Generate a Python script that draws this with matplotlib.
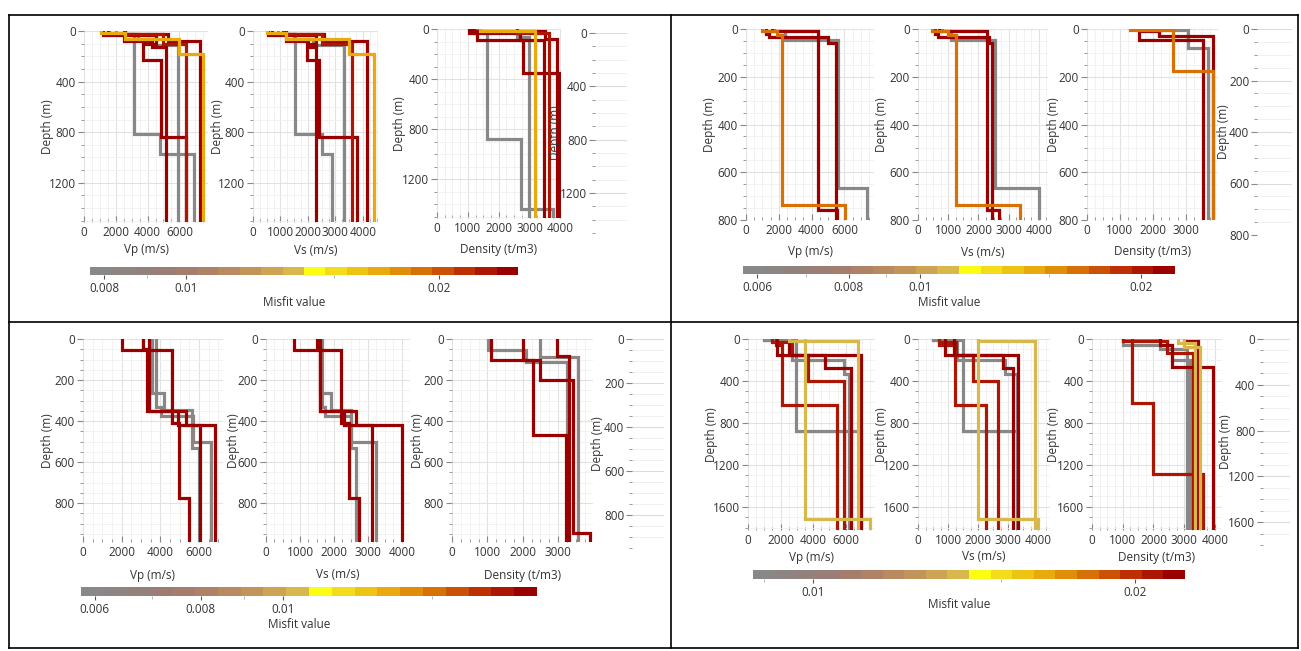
import matplotlib
matplotlib.use("Agg")
import matplotlib.pyplot as plt
from matplotlib.colors import ListedColormap, LogNorm
from matplotlib.cm import ScalarMappable
from matplotlib.lines import Line2D
from matplotlib.ticker import MultipleLocator, FixedLocator, NullFormatter, NullLocator

plt.rcParams['font.family'] = ['Open Sans', 'DejaVu Sans']

W, H = 1301, 651

# colour scale of the misfit (20 steps, grey -> tan -> yellow -> dark red)
misfit_colors = ['#888888', '#8c8582', '#93817b', '#9a7e75', '#a37e6e', '#ad8267',
                 '#b98960', '#c3945a', '#cda453', '#d8b84a', '#fcfc14', '#f4dc1c',
                 '#eec414', '#e8aa0c', '#e08e0a', '#d87008', '#cc5006', '#bc3004',
                 '#ac1602', '#9a0000']

# ---------------- top left ----------------
tl_misfit = [0.0078, 0.0080, 0.0236, 0.0240, 0.0244, 0.0232, 0.017]
tl_tops = [[0, 20, 815, 975], [0, 20, 60, 110], [0, 30, 80, 125], [0, 30, 106, 230, 840],
           [0, 20, 80], [0, 25, 100], [0, 15, 60, 185]]
tl_vp = [[1600, 3150, 4800, 6950], [2000, 3400, 4500, 5890], [1200, 2500, 4300, 5160],
         [2600, 4500, 3680, 4840, 6420], [1500, 5300, 7300], [2500, 5000, 6400],
         [1100, 2600, 6000, 7470]]
tl_vs = [[700, 1530, 2500, 2870], [900, 1500, 2200, 3300], [550, 1200, 2000, 2300],
         [1200, 2300, 1960, 2400, 3780], [700, 2600, 4150], [1100, 2500, 3600],
         [500, 1200, 3500, 4400]]
tl_rho_tops = [[0, 20, 880, 1440], [0, 20, 60], [0, 30, 90], [0, 30, 90, 350],
               [0, 15, 80], [0, 30], [0, 15]]
tl_rho = [[1300, 1630, 2720, 3750], [1400, 2600, 2990], [1050, 1300, 3480],
          [1200, 2700, 2800, 3960], [1100, 3500, 3900], [2600, 3640], [1400, 3170]]
tl_ticks = [0.008, 0.01, 0.02]

# ---------------- top right ----------------
tr_misfit = [0.0058, 0.0215, 0.0218, 0.0165]
tr_tops = [[0, 10, 45, 665], [0, 7, 760], [0, 20, 35, 60], [0, 8, 24, 738]]
tr_vp = [[1700, 2400, 5600, 7400], [1600, 4370, 5540], [1200, 1400, 5000, 5500],
         [1000, 1900, 2200, 6060]]
tr_vs = [[800, 1100, 2560, 4000], [700, 2270, 2670], [550, 650, 2350, 2450],
         [450, 1000, 1260, 3360]]
tr_rho_tops = [[0, 5, 80], [0, 45], [0, 10, 30], [0, 5, 178]]
tr_rho = [[2150, 3080, 3690], [1570, 3530], [1600, 2200, 3830], [1300, 2600, 3830]]
tr_ticks = [0.006, 0.008, 0.01, 0.02]

# ---------------- bottom left ----------------
bl_misfit = [0.0058, 0.0062, 0.0190, 0.0195, 0.0198]
bl_tops = [[0, 263, 345, 532], [0, 330, 375, 500], [0, 350, 420], [0, 52, 410, 775],
           [0, 50, 350, 420]]
bl_vp = [[3590, 4200, 5630, 6010], [3760, 4020, 5700, 6610], [3400, 4900, 6050],
         [2000, 4600, 4970, 5490], [3100, 3300, 5350, 6840]]
bl_vs = [[1600, 1900, 2500, 2650], [1650, 1750, 2500, 3240], [1600, 2300, 3120],
         [820, 2200, 2450, 2740], [1500, 1600, 2650, 4000]]
bl_rho_tops = [[0, 55, 110], [0, 90], [0, 85], [0, 100, 466], [0, 100, 200, 946]]
bl_rho = [[1030, 2090, 3260], [2500, 3560], [2970, 3300], [1100, 2300, 3240],
          [2000, 2500, 3410, 3900]]
bl_ticks = [0.006, 0.008, 0.01]

# ---------------- bottom right ----------------
br_misfit = [0.0089, 0.0091, 0.0205, 0.0212, 0.0218, 0.0222, 0.0134, 0.0136]
br_tops = [[0, 10, 880], [0, 10, 200, 330], [0, 60, 625], [0, 30, 150, 400],
           [0, 150, 280], [0, 150], [0, 1712], [0, 15]]
br_vp = [[1000, 2970, 6960], [1000, 2700, 5890, 6200], [1700, 2090, 5450],
         [1500, 2700, 3670, 5880], [2500, 4750, 6300], [1800, 6950], [3480, 7470],
         [2500, 6750]]
br_vs = [[500, 1500, 3330], [500, 1300, 2900, 3300], [700, 1230, 2270],
         [700, 1250, 1830, 2670], [1200, 2830, 3170], [900, 3330], [2000, 4000],
         [2000, 3900]]
br_rho_tops = [[0, 10, 100], [0, 60, 200], [0, 20, 610, 1290], [0, 20, 130],
               [0, 60, 270], [0, 20], [0, 40], [0, 80]]
br_rho = [[1000, 2200, 3080], [1000, 2600, 3200], [1000, 1310, 1970, 3600],
          [1300, 2430, 3300], [2200, 2600, 3930], [3000, 3450], [2800, 3350],
          [3000, 3500]]
br_ticks = [0.01, 0.02]

TXT = '#333333'
FS = 8.5
cmap = ListedColormap(misfit_colors)
fig = plt.figure(figsize=(W / 100, H / 100), dpi=100)


def px_axes(x0, x1, y0, y1):
    return fig.add_axes([x0 / W, 1 - y1 / H, (x1 - x0) / W, (y1 - y0) / H])


def ptext(x, y, s, **kw):
    fig.text(x / W, 1 - y / H, s, ha='center', va='center', color=TXT, fontsize=FS, **kw)


def stairs(tops, vals, zmax):
    z, v = [], []
    bottoms = list(tops[1:]) + [zmax]
    for t, b, val in zip(tops, bottoms, vals):
        z += [t, b]
        v += [val, val]
    return v, z


def profile_axes(box, xmax, xstep, zmax, zstep, zminor):
    ax = px_axes(*box)
    ax.set_xlim(0, xmax)
    ax.set_ylim(zmax, 0)
    ax.xaxis.set_major_locator(MultipleLocator(xstep))
    ax.xaxis.set_minor_locator(MultipleLocator(xstep / 4))
    ax.yaxis.set_major_locator(MultipleLocator(zstep))
    ax.yaxis.set_minor_locator(MultipleLocator(zminor))
    ax.grid(which='major', color='#e2e2e2', lw=0.8)
    ax.grid(which='minor', color='#f0f0f0', lw=0.6)
    ax.set_axisbelow(True)
    for s in ax.spines.values():
        s.set_visible(False)
    ax.tick_params(which='both', colors='#888888', labelcolor=TXT, labelsize=FS)
    ax.tick_params(axis='x', which='both', direction='in', pad=3)
    ax.tick_params(axis='y', which='both', pad=2)
    ax.tick_params(which='major', length=4, width=0.8)
    ax.tick_params(which='minor', length=2, width=0.6)
    return ax


def draw_panel(P):
    norm = LogNorm(P['vmin'], P['vmax'])
    zmax = P['zmax']
    boxes = P['boxes']
    specs = [(P['vp'], P['tops'], P['vp_x'], 'Vp (m/s)'),
             (P['vs'], P['tops'], P['vs_x'], 'Vs (m/s)'),
             (P['rho'], P['rho_tops'], P['rho_x'], 'Density (t/m3)')]
    for (vals, tops, (xmax, xstep), label), box, ylx in zip(specs, boxes, P['ylab_x']):
        ax = profile_axes(box, xmax, xstep, zmax, P['zstep'], P['zminor'])
        for m, t, v in zip(P['misfit'], tops, vals):
            xs, zs = stairs(t, v, zmax)
            ax.plot(xs, zs, color=cmap(norm(m)), lw=2.3, solid_joinstyle='miter')
        ptext(ylx, (box[2] + box[3]) / 2, 'Depth (m)', rotation=90)
        ptext((box[0] + box[1]) / 2, P['xlab_y'], label)

    # extra depth scale on the right
    rx0, rx1, ry0, ry1 = P['right_box']
    ra = px_axes(rx0, rx1, ry0, ry1)
    ra.set_ylim(P['right_zmax'], 0)
    ra.set_xlim(0, 1)
    ra.yaxis.set_major_locator(MultipleLocator(P['zstep']))
    ra.yaxis.set_minor_locator(MultipleLocator(P['zminor']))
    ra.xaxis.set_major_locator(NullLocator())
    ra.grid(axis='y', which='major', color='#dcdcdc', lw=0.8)
    ra.grid(axis='y', which='minor', color='#eeeeee', lw=0.6)
    for s in ra.spines.values():
        s.set_visible(False)
    ra.tick_params(which='both', colors='#888888', labelcolor=TXT, labelsize=FS, pad=1.5)
    ra.tick_params(which='major', length=4, width=0.8)
    ra.tick_params(which='minor', length=2, width=0.6)
    ptext(P['right_lab_x'], (ry0 + ry1) / 2, 'Depth (m)', rotation=90)

    # misfit colour bar
    cx0, cx1, cy0, cy1 = P['cbar_box']
    cax = px_axes(cx0, cx1, cy0, cy1)
    sm = ScalarMappable(norm=norm, cmap=cmap)
    cb = fig.colorbar(sm, cax=cax, orientation='horizontal')
    cb.outline.set_visible(False)
    cb.set_ticks(P['ticks'], labels=[f'{t:g}' for t in P['ticks']])
    cax.xaxis.set_minor_locator(FixedLocator(P['minor_ticks']))
    cax.xaxis.set_minor_formatter(NullFormatter())
    cax.tick_params(which='major', length=3, width=0.8, colors='#555555',
                    labelcolor=TXT, labelsize=FS, pad=2)
    cax.tick_params(which='minor', length=2, width=0.6, colors='#aaaaaa')
    ptext((cx0 + cx1) / 2 - 10, P['misfit_y'], 'Misfit value')


panels = [
    dict(misfit=tl_misfit, tops=tl_tops, vp=tl_vp, vs=tl_vs, rho_tops=tl_rho_tops, rho=tl_rho,
         vmin=0.0077, vmax=0.0248, ticks=tl_ticks, minor_ticks=[0.009, 0.015],
         zmax=1510, zstep=400, zminor=100,
         vp_x=(7800, 2000), vs_x=(4550, 1000), rho_x=(4020, 1000),
         boxes=[(84, 208, 31, 222), (253, 378, 31, 222), (437, 561, 29, 218)],
         ylab_x=[47, 218, 400], xlab_y=250,
         right_box=(595, 627, 33, 233), right_zmax=1500, right_lab_x=556,
         cbar_box=(90, 518, 267, 275), misfit_y=302),
    dict(misfit=tr_misfit, tops=tr_tops, vp=tr_vp, vs=tr_vs, rho_tops=tr_rho_tops, rho=tr_rho,
         vmin=0.00574, vmax=0.02224, ticks=tr_ticks, minor_ticks=[0.007, 0.009, 0.015],
         zmax=800, zstep=200, zminor=50,
         vp_x=(7800, 2000), vs_x=(4300, 1000), rho_x=(3980, 1000),
         boxes=[(746, 874, 29, 220), (918, 1048, 29, 220), (1087, 1218, 29, 220)],
         ylab_x=[710, 882, 1053], xlab_y=252,
         right_box=(1257, 1292, 29, 235), right_zmax=800, right_lab_x=1224,
         cbar_box=(743, 1175, 266, 274), misfit_y=302),
    dict(misfit=bl_misfit, tops=bl_tops, vp=bl_vp, vs=bl_vs, rho_tops=bl_rho_tops, rho=bl_rho,
         vmin=0.00578, vmax=0.01994, ticks=bl_ticks, minor_ticks=[0.007, 0.009, 0.015],
         zmax=990, zstep=200, zminor=50,
         vp_x=(7250, 2000), vs_x=(4240, 1000), rho_x=(3990, 1000),
         boxes=[(83, 223, 339, 542), (266, 410, 339, 542), (452, 593, 339, 542)],
         ylab_x=[48, 233, 417], xlab_y=575,
         right_box=(632, 664, 339, 548), right_zmax=950, right_lab_x=598,
         cbar_box=(81, 537, 587, 596), misfit_y=624),
    dict(misfit=br_misfit, tops=br_tops, vp=br_vp, vs=br_vs, rho_tops=br_rho_tops, rho=br_rho,
         vmin=0.00879, vmax=0.02227, ticks=br_ticks, minor_ticks=[0.009, 0.015],
         zmax=1820, zstep=400, zminor=100,
         vp_x=(7800, 2000), vs_x=(4400, 1000), rho_x=(4230, 1000),
         boxes=[(748, 875, 339, 530), (918, 1050, 339, 530), (1092, 1222, 339, 530)],
         ylab_x=[711, 882, 1053], xlab_y=557,
         right_box=(1263, 1290, 339, 545), right_zmax=1800, right_lab_x=1225,
         cbar_box=(753, 1185, 570, 579), misfit_y=605),
]

for P in panels:
    draw_panel(P)

# table frame around the four panels
frame = [((9, 15), (1298, 15)), ((9, 322), (1298, 322)), ((9, 648), (1298, 648)),
         ((9, 15), (9, 648)), ((671, 15), (671, 648)), ((1298, 15), (1298, 648))]
for (x0, y0), (x1, y1) in frame:
    fig.add_artist(Line2D([x0 / W, x1 / W], [1 - y0 / H, 1 - y1 / H],
                          transform=fig.transFigure, color='black', lw=1.2))

fig.savefig('out.png', dpi=100, facecolor='white')
